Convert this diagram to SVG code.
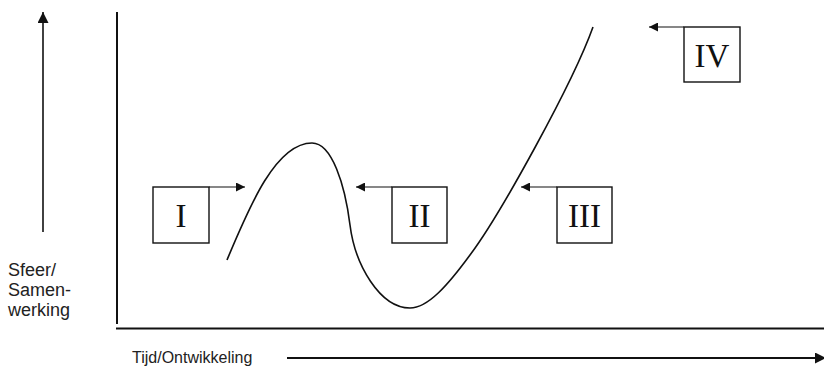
<svg xmlns="http://www.w3.org/2000/svg" width="824" height="371" viewBox="0 0 824 371">
<defs>
<style>
.box{fill:#fff;stroke:#111;stroke-width:1.4}
.num{font-family:"Liberation Serif","Times New Roman",serif;font-size:33px;fill:#111;text-anchor:middle}
.lbl{font-family:"Liberation Sans",Arial,sans-serif;font-size:18px;fill:#222}
.lbl2{font-family:"Liberation Sans",Arial,sans-serif;font-size:16px;fill:#222}
.axis{stroke:#111;stroke-width:2;fill:none}
.ptr{stroke:#111;stroke-width:1.2;fill:none}
</style>
<marker id="ah" viewBox="0 0 10 10" refX="10" refY="5" markerWidth="13" markerHeight="9" markerUnits="userSpaceOnUse" orient="auto">
<path d="M0,0 L10,5 L0,10 Z" fill="#111"/>
</marker>
<marker id="ah2" viewBox="0 0 10 10" refX="10" refY="5" markerWidth="11" markerHeight="11" markerUnits="userSpaceOnUse" orient="auto">
<path d="M0,0 L10,5 L0,10 Z" fill="#111"/>
</marker>
</defs>
<rect width="824" height="371" fill="#fff"/>
<g id="axes">
<line class="axis" x1="117" y1="12" x2="117" y2="324"/>
<line class="axis" x1="116" y1="328.5" x2="824" y2="328.5"/>
<line x1="43" y1="232" x2="43" y2="12" stroke="#111" stroke-width="1.6" marker-end="url(#ah2)"/>
<line x1="287" y1="358" x2="826" y2="358" stroke="#111" stroke-width="2" marker-end="url(#ah2)"/>
</g>
<g id="labels">
<text class="lbl" x="8" y="276">Sfeer/</text>
<text class="lbl" x="8" y="296">Samen-</text>
<text class="lbl" x="8" y="316">werking</text>
<text class="lbl2" x="132" y="363">Tijd/Ontwikkeling</text>
</g>
<g id="curve">
<path d="M227,260 C248,210 275,143 312,143 C332,143 345,185 350,225 C355,265 380,308 410,308 C428,308 448,285 470,255 C500,215 573,83 593,27" fill="none" stroke="#111" stroke-width="1.6"/>
</g>
<g id="connectors">
<line class="ptr" x1="209" y1="187" x2="245" y2="187" marker-end="url(#ah)"/>
<line class="ptr" x1="392" y1="187" x2="356" y2="187" marker-end="url(#ah)"/>
<line class="ptr" x1="557" y1="187" x2="521" y2="187" marker-end="url(#ah)"/>
<line class="ptr" x1="684" y1="27" x2="649" y2="27" marker-end="url(#ah)"/>
</g>
<g id="node-I">
<rect class="box" x="153" y="187" width="56" height="56"/>
<text class="num" x="181" y="227">I</text>
</g>
<g id="node-II">
<rect class="box" x="392" y="187" width="55" height="56"/>
<text class="num" x="419.5" y="227">II</text>
</g>
<g id="node-III">
<rect class="box" x="557" y="187" width="55" height="56"/>
<text class="num" x="584.5" y="227">III</text>
</g>
<g id="node-IV">
<rect class="box" x="684" y="27" width="56" height="55"/>
<text class="num" x="712" y="67">IV</text>
</g>
</svg>
